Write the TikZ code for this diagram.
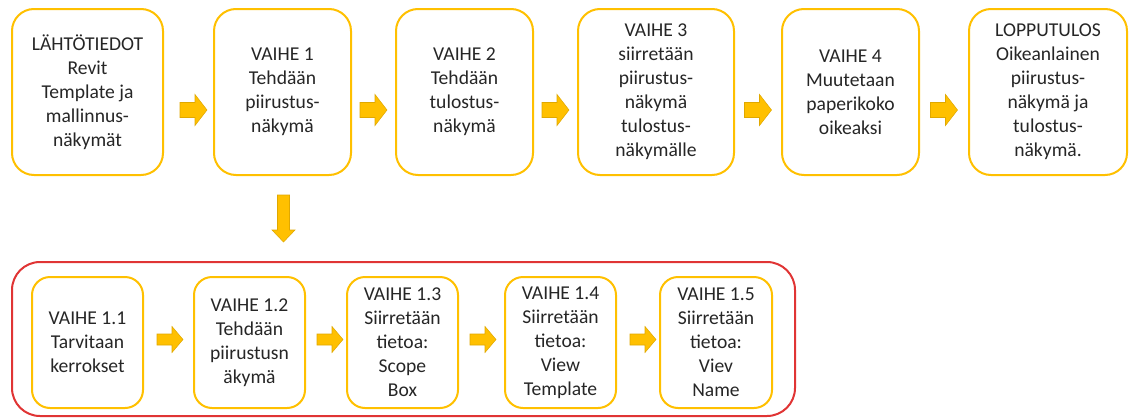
\documentclass[tikz,border=0pt]{standalone}
\usepackage{fontspec}
\setmainfont{Carlito}
\usetikzlibrary{calc}
\definecolor{gold}{HTML}{FFC000}
\definecolor{goldedge}{HTML}{E0A800}
\definecolor{frame}{HTML}{E03434}
\definecolor{ink}{HTML}{262626}
\tikzset{
  stepbox/.style={draw=gold, line width=1.5pt, fill=white, rounded corners=16.5pt,
    minimum height=124.5pt, align=center, text=ink, inner sep=0pt,
    font=\fontsize{14.7}{18}\selectfont},
  substep/.style={stepbox, rounded corners=13.5pt, minimum width=83.25pt, minimum height=98.25pt},
  groupframe/.style={draw=frame, line width=1.5pt, rounded corners=21pt, inner sep=0pt},
  arrowbody/.style={fill=gold, draw=goldedge, line width=0.4pt},
  pics/bigarrow/.style={code={
    \filldraw[arrowbody] (-13.5,-7.5) -- (1.5,-7.5) -- (1.5,-15.5) -- (13.5,0)
      -- (1.5,15.5) -- (1.5,7.5) -- (-13.5,7.5) -- cycle;}},
  pics/smallarrow/.style={code={
    \filldraw[arrowbody] (-13,-5.5) -- (2,-5.5) -- (2,-13) -- (13,0)
      -- (2,13) -- (2,5.5) -- (-13,5.5) -- cycle;}},
  pics/downarrow/.style={code={
    \filldraw[arrowbody] (-6,-23.5) -- (6,-23.5) -- (6,11.5) -- (11.5,11.5)
      -- (0,23.5) -- (-11.5,11.5) -- (-6,11.5) -- cycle;}}
}
\begin{document}
\begin{tikzpicture}[x=0.75pt, y=-0.75pt]
\useasboundingbox (0,0) rectangle (1131,418);

% main process row
\node[stepbox, minimum width=113.25pt] (b1) at (87.5,92) {LÄHTÖTIEDOT\\Revit\\Template ja\\mallinnus-\\näkymät};
\node[stepbox, minimum width=102.75pt] (b2) at (282.5,92) {VAIHE 1\\Tehdään\\piirustus-\\näkymä};
\node[stepbox, minimum width=102.75pt] (b3) at (464.5,92) {VAIHE 2\\Tehdään\\tulostus-\\näkymä};
\node[stepbox, minimum width=117pt] (b4) at (656,92) {VAIHE 3\\siirretään\\piirustus-\\näkymä\\tulostus-\\näkymälle};
\node[stepbox, minimum width=102.75pt] (b5) at (850.5,92) {VAIHE 4\\Muutetaan\\paperikoko\\oikeaksi};
\node[stepbox, minimum width=118.5pt] (b6) at (1048,92) {LOPPUTULOS\\Oikeanlainen\\piirustus-\\näkymä ja\\tulostus-\\näkymä.};

\pic at ($(b1.east)!0.5!(b2.west)+(5,18)$) {bigarrow};
\pic at ($(b2.east)!0.5!(b3.west)+(0,18)$) {bigarrow};
\pic at ($(b3.east)!0.5!(b4.west)+(0,18)$) {bigarrow};
\pic at ($(b4.east)!0.5!(b5.west)+(0,18)$) {bigarrow};
\pic at ($(b5.east)!0.5!(b6.west)+(0,18)$) {bigarrow};

% sub-steps of VAIHE 1
\node[groupframe, minimum width=587.25pt, minimum height=115.5pt] (grp) at (403.5,339) {};
\coordinate (grptop) at (b2.south |- grp.north);
\pic at ($(b2.south)!0.5!(grptop)+(1,0)$) {downarrow};

\node[substep] (s1) at (87.5,342.5) {VAIHE 1.1\\Tarvitaan\\kerrokset};
\node[substep] (s2) at (249.5,342.5) {VAIHE 1.2\\Tehdään\\piirustusn\\äkymä};
\node[substep] (s3) at (402.5,342.5) {VAIHE 1.3\\Siirretään\\tietoa:\\Scope\\Box};
\node[substep] (s4) at (560.5,342.5) {VAIHE 1.4\\Siirretään\\tietoa:\\View\\Template};
\node[substep, minimum width=84pt] (s5) at (716,342.5) {VAIHE 1.5\\Siirretään\\tietoa:\\Viev\\Name};

\pic at ($(s1.east)!0.5!(s2.west)+(1.5,-3)$) {smallarrow};
\pic at ($(s2.east)!0.5!(s3.west)+(4,-3)$) {smallarrow};
\pic at ($(s3.east)!0.5!(s4.west)+(1.5,-3)$) {smallarrow};
\pic at ($(s4.east)!0.5!(s5.west)+(5,-3)$) {smallarrow};
\end{tikzpicture}
\end{document}
